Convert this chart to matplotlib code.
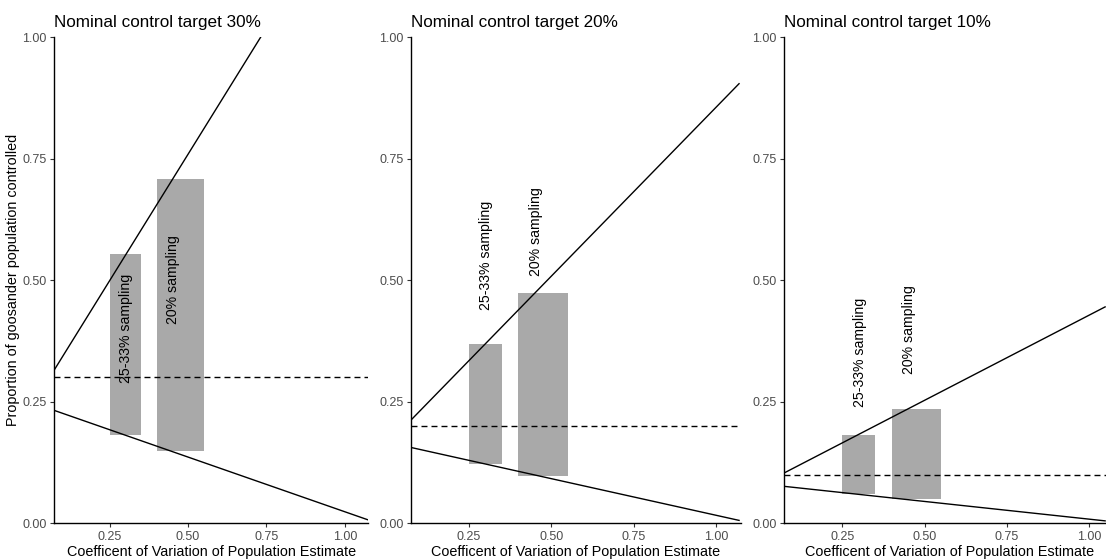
import matplotlib
matplotlib.use("Agg")
import matplotlib.pyplot as plt

plt.rcParams["font.family"] = ["Liberation Sans", "DejaVu Sans"]
plt.rcParams["lines.scale_dashes"] = False

W, H = 1106, 560

# values
targets = [0.30, 0.20, 0.10]
titles = ["Nominal control target 30%", "Nominal control target 20%", "Nominal control target 10%"]
cv_left = [0.25, 0.40]
cv_right = [0.35, 0.55]
bar_low = [[0.182, 0.149], [0.121, 0.098], [0.060, 0.049]]
bar_high = [[0.553, 0.709], [0.369, 0.473], [0.182, 0.235]]
upper_x = [[0.074, 0.732], [0.073, 1.070], [0.073, 1.048]]
upper_y = [[0.316, 1.000], [0.212, 0.904], [0.1035, 0.445]]
lower_x = [[0.074, 1.079], [0.073, 1.070], [0.073, 1.048]]
lower_y = [[0.232, 0.006], [0.156, 0.006], [0.076, 0.005]]
labels = ["25-33% sampling", "20% sampling"]
label_x = [0.302, 0.453]
label_y = [[0.288, 0.409], [0.439, 0.508], [0.240, 0.308]]
x_ticks = [0.25, 0.50, 0.75, 1.00]
y_ticks = [0.00, 0.25, 0.50, 0.75, 1.00]

# panel boxes in pixels: left, width
panels = [(54.3, 314.0), (411.0, 329.7), (784.3, 329.7)]
top_px, bottom_px = 37.0, 523.3

fig = plt.figure(figsize=(W / 100, H / 100), dpi=100)

for i, (left, width) in enumerate(panels):
    ax = fig.add_axes([left / W, (H - bottom_px) / H, width / W, (bottom_px - top_px) / H])

    ax.bar(cv_left, [h - l for h, l in zip(bar_high[i], bar_low[i])],
           width=[r - l for r, l in zip(cv_right, cv_left)], bottom=bar_low[i],
           align="edge", color="#a9a9a9", linewidth=0, zorder=1)

    ax.axhline(targets[i], color="black", lw=1.0, linestyle=(0, (4.3, 2.9)), zorder=2)
    ax.plot(upper_x[i], upper_y[i], color="black", lw=1.0, zorder=3)
    ax.plot(lower_x[i], lower_y[i], color="black", lw=1.0, zorder=3)

    for j, lab in enumerate(labels):
        ax.text(label_x[j], label_y[i][j], lab, rotation=90, ha="center", va="bottom",
                fontsize=10.2, color="black", zorder=4)

    ax.set_xlim(0.0735, 1.075)
    ax.set_ylim(0, 1)
    ax.set_xticks(x_ticks)
    ax.set_xticklabels([f"{v:.2f}" for v in x_ticks])
    ax.set_yticks(y_ticks)
    ax.set_yticklabels([f"{v:.2f}" for v in y_ticks])

    for s in ["top", "right"]:
        ax.spines[s].set_visible(False)
    for s in ["left", "bottom"]:
        ax.spines[s].set_linewidth(1.0)
        ax.spines[s].set_color("black")
    ax.tick_params(length=3.2, width=0.8, color="#333333", labelcolor="#4d4d4d",
                   labelsize=9, pad=2.2)

    ax.set_title(titles[i], loc="left", fontsize=12.3, pad=7)
    ax.set_xlabel("Coefficent of Variation of Population Estimate", fontsize=10.4, labelpad=1.5)
    if i == 0:
        ax.set_ylabel("Proportion of goosander population controlled", fontsize=10.4, labelpad=2)

fig.savefig("out.png", dpi=100)
